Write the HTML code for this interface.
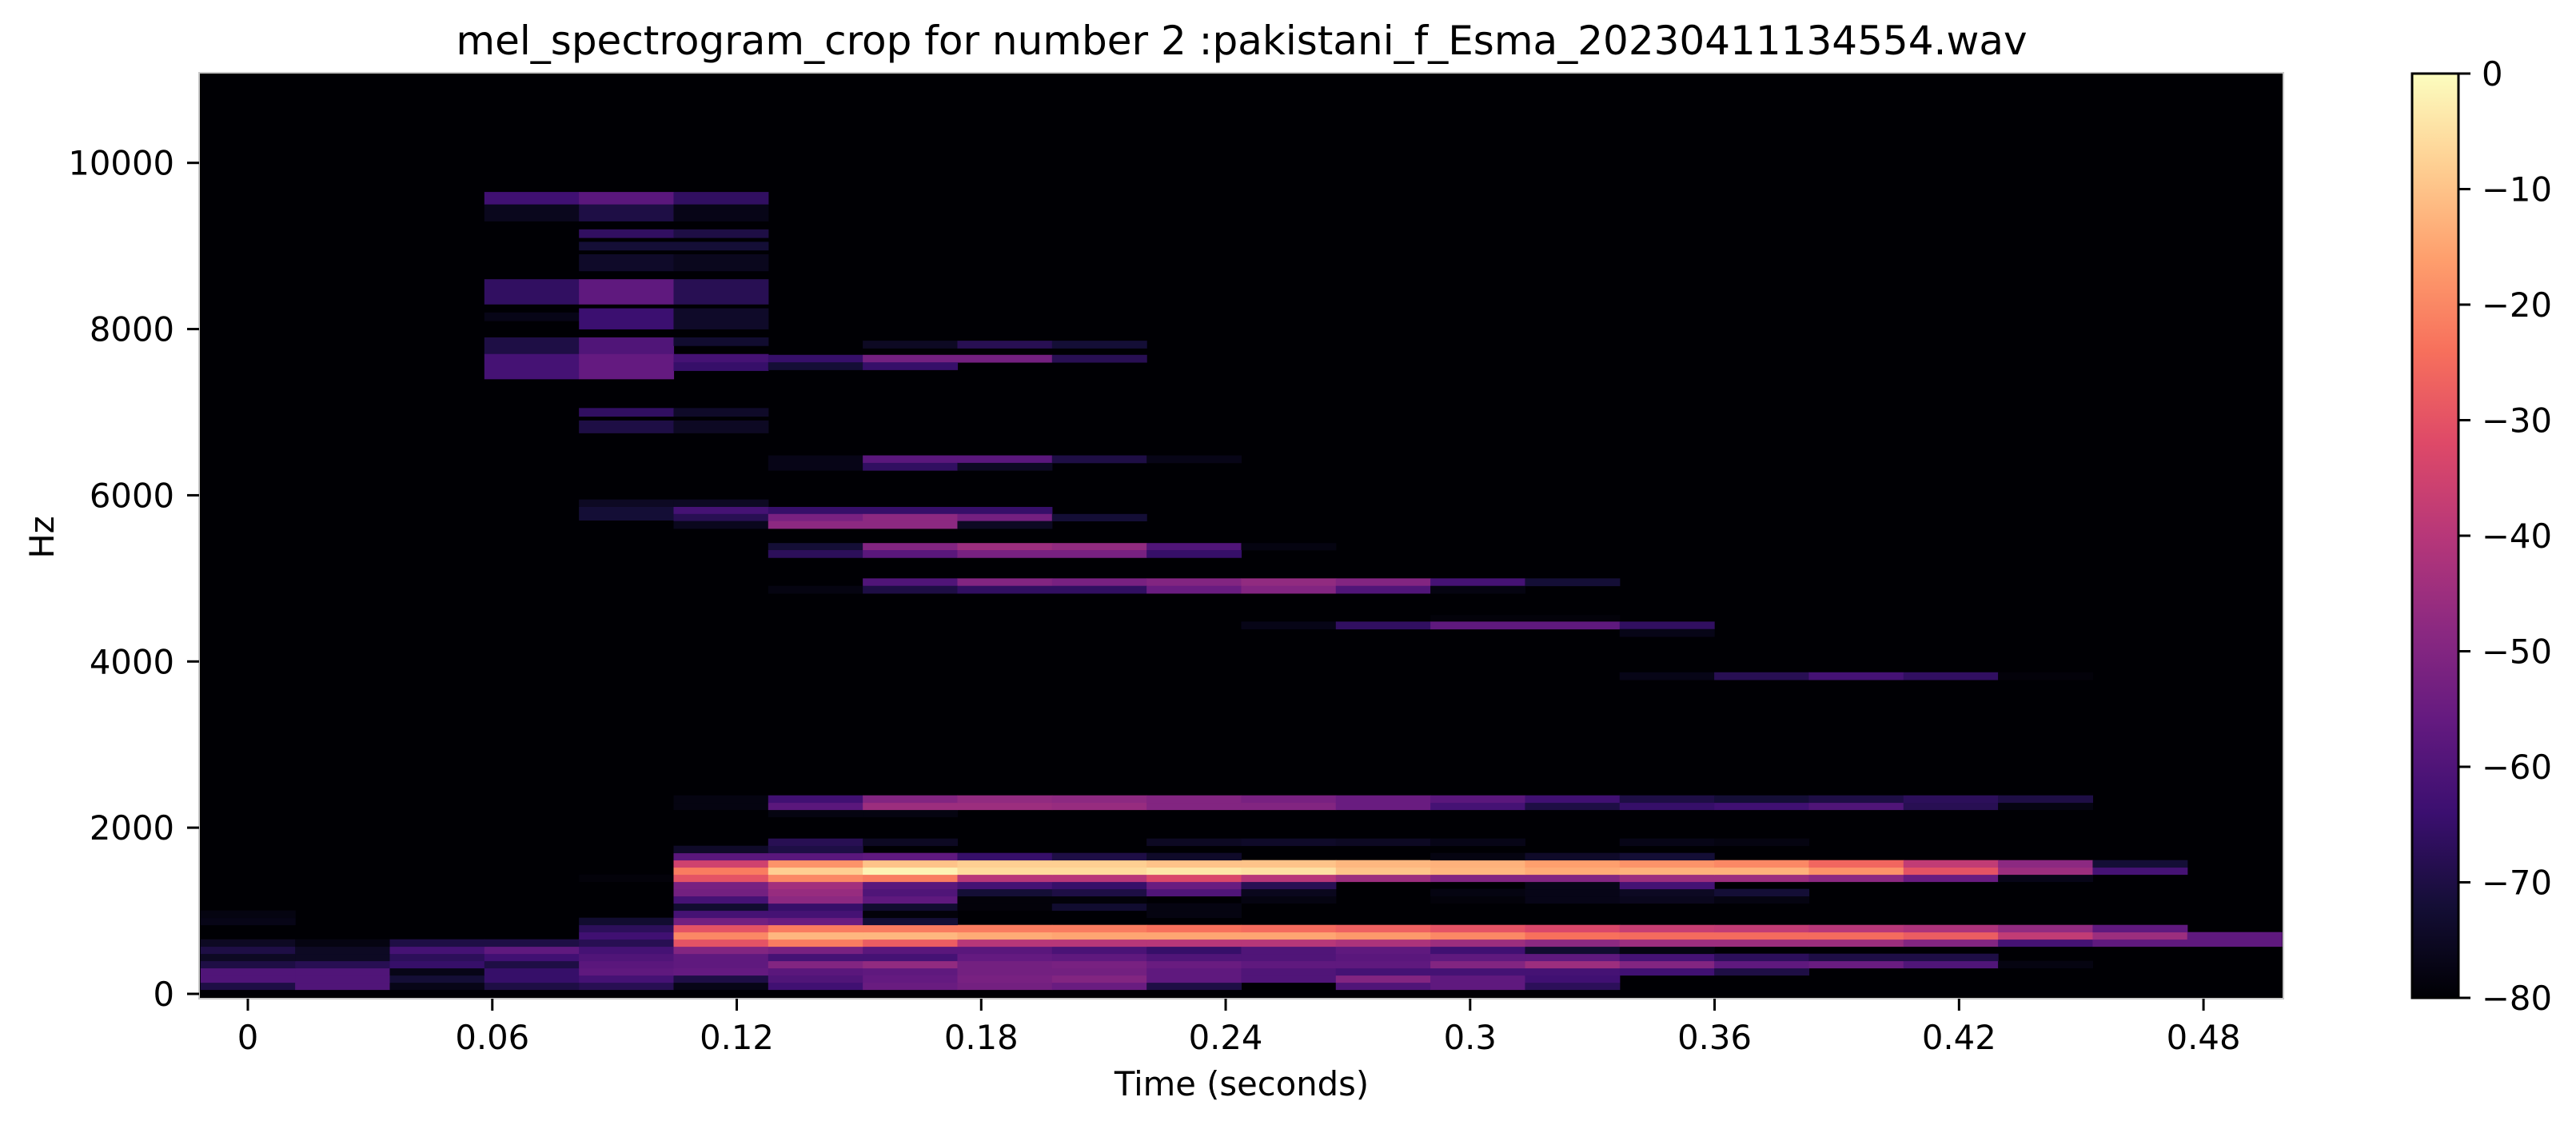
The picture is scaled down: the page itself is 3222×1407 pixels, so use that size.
<!DOCTYPE html>
<html><head><meta charset="utf-8">
<style>
html,body{margin:0;padding:0;background:#fff;}
svg{display:block;}
text{font-family:"DejaVu Sans","Liberation Sans",sans-serif;fill:#000;}
</style></head>
<body>
<svg id="chart" width="3222" height="1407" viewBox="0 0 3222 1407" xmlns="http://www.w3.org/2000/svg">
  <text x="1553" y="68" font-size="50" text-anchor="middle">mel_spectrogram_crop for number 2 :pakistani_f_Esma_20230411134554.wav</text>
  <defs>
    <clipPath id="plotclip"><rect x="249" y="91" width="2607" height="1158"/></clipPath>
    <linearGradient id="magma" x1="0" y1="1" x2="0" y2="0">
      <stop offset="0" stop-color="#000004"/><stop offset="0.1" stop-color="#140e36"/>
      <stop offset="0.2" stop-color="#3b0f70"/><stop offset="0.3" stop-color="#641a80"/>
      <stop offset="0.4" stop-color="#8c2981"/><stop offset="0.5" stop-color="#b73779"/>
      <stop offset="0.6" stop-color="#de4968"/><stop offset="0.7" stop-color="#f7705c"/>
      <stop offset="0.8" stop-color="#fe9f6d"/><stop offset="0.9" stop-color="#fecf92"/>
      <stop offset="1" stop-color="#fcfdbf"/>
    </linearGradient>
  </defs>
  <rect x="249" y="91" width="2607" height="1158" fill="#000004"/>
  <g id="cells" clip-path="url(#plotclip)"></g>
  <rect x="249" y="91" width="2607" height="1158" fill="none" stroke="#c8c8c8" stroke-width="2"/>
  <g id="xaxis"></g>
  <g id="yaxis"></g>
  <text x="1553" y="1370" font-size="41.7" text-anchor="middle">Time (seconds)</text>
  <text x="0" y="0" font-size="41.7" text-anchor="middle" transform="translate(67,672) rotate(-90)">Hz</text>
  <rect x="3017" y="92" width="58" height="1156" fill="url(#magma)" stroke="#000" stroke-width="3"/>
  <g id="cbaxis"></g>
</svg>
<script>
const NS = "http://www.w3.org/2000/svg";
const hopSeconds = 0.02322;
const frameCount = 22;
const timeTicks = [0, 0.06, 0.12, 0.18, 0.24, 0.3, 0.36, 0.42, 0.48];
const timeTickLabels = ["0", "0.06", "0.12", "0.18", "0.24", "0.3", "0.36", "0.42", "0.48"];
const hzTicks = [0, 2000, 4000, 6000, 8000, 10000];
const dbTicks = [0, -10, -20, -30, -40, -50, -60, -70, -80];
const lowRowBaseHz = 51;
const lowRowStepHz = 86.6;
const lowRowIndex = [0,1,2,3,4,5,6,7,8,9,10,11,12,13,14,15,16,17,18,19,20,24,25,26];
const lowRowValues = [
 [-70,-60,-77,-70,-68,-77,-63,-55,-53,-55,-70,-80,-60,-57,-67,-80,-80,-80,-80,-80,-80,-80],
 [-60,-60,-72,-65,-62,-70,-60,-56,-52,-50,-57,-60,-50,-57,-63,-80,-80,-80,-80,-80,-80,-80],
 [-60,-60,-77,-65,-57,-56,-58,-57,-53,-53,-57,-60,-62,-62,-62,-63,-70,-80,-80,-80,-80,-80],
 [-70,-68,-65,-70,-58,-57,-50,-47,-53,-52,-55,-57,-57,-50,-45,-50,-57,-55,-60,-78,-80,-80],
 [-75,-75,-67,-63,-60,-57,-62,-62,-56,-57,-60,-60,-58,-57,-57,-62,-67,-70,-70,-80,-80,-80],
 [-70,-75,-62,-57,-62,-50,-52,-58,-58,-61,-65,-60,-57,-63,-73,-78,-80,-80,-80,-80,-80,-80],
 [-75,-78,-70,-70,-68,-30,-22,-28,-40,-40,-40,-40,-42,-45,-48,-45,-45,-45,-50,-62,-57,-57],
 [-80,-80,-80,-80,-63,-20,-12,-12,-14,-15,-15,-15,-17,-20,-24,-25,-25,-25,-28,-38,-45,-57],
 [-80,-80,-80,-80,-67,-30,-22,-22,-22,-22,-24,-25,-27,-30,-33,-37,-38,-40,-42,-47,-57,-80],
 [-77,-80,-80,-80,-73,-53,-55,-72,-80,-80,-80,-80,-80,-80,-80,-80,-80,-80,-80,-80,-80,-80],
 [-78,-80,-80,-80,-80,-62,-62,-79,-80,-80,-78,-80,-80,-80,-80,-80,-80,-80,-80,-80,-80,-80],
 [-80,-80,-80,-80,-80,-73,-65,-73,-79,-73,-78,-80,-80,-80,-80,-80,-80,-80,-80,-80,-80,-80],
 [-80,-80,-80,-80,-80,-62,-48,-57,-79,-79,-80,-78,-80,-79,-77,-76,-78,-80,-80,-80,-80,-80],
 [-80,-80,-80,-80,-80,-53,-46,-60,-72,-70,-60,-76,-80,-78,-77,-75,-72,-80,-80,-80,-80,-80],
 [-80,-80,-80,-80,-80,-52,-44,-58,-62,-65,-55,-68,-80,-80,-77,-62,-80,-80,-80,-80,-80,-80],
 [-80,-80,-80,-80,-79,-30,-20,-22,-40,-40,-33,-40,-45,-50,-50,-45,-45,-48,-55,-77,-80,-80],
 [-80,-80,-80,-80,-80,-22,-8,-2,-6,-6,-4,-5,-10,-12,-14,-13,-13,-18,-30,-45,-62,-80],
 [-80,-80,-80,-80,-80,-35,-18,-10,-8,-8,-10,-10,-12,-13,-16,-18,-20,-26,-38,-48,-72,-80],
 [-80,-80,-80,-80,-80,-58,-58,-57,-65,-70,-74,-80,-80,-78,-74,-72,-80,-80,-80,-80,-80,-80],
 [-80,-80,-80,-80,-80,-74,-70,-80,-80,-80,-80,-80,-80,-80,-80,-80,-80,-80,-80,-80,-80,-80],
 [-80,-80,-80,-80,-80,-80,-68,-75,-80,-80,-75,-74,-75,-77,-80,-77,-78,-80,-80,-80,-80,-80],
 [-80,-80,-80,-80,-80,-80,-78,-78,-80,-80,-80,-80,-80,-80,-80,-80,-80,-80,-80,-80,-80,-80],
 [-80,-80,-80,-80,-80,-78,-58,-45,-45,-46,-50,-50,-55,-62,-70,-65,-63,-60,-68,-78,-80,-80],
 [-80,-80,-80,-80,-80,-78,-63,-50,-47,-48,-50,-52,-55,-58,-63,-70,-72,-70,-67,-70,-80,-80]
];
const highCells = [
 [3,3,9500,9650,-63],[4,4,9500,9650,-58],[5,5,9500,9650,-66],
 [3,3,9300,9500,-76],[4,4,9300,9500,-70],[5,5,9300,9500,-77],
 [4,4,9100,9200,-66],[5,5,9100,9200,-70],[4,5,8950,9050,-72],
 [4,4,8700,8900,-74],[5,5,8700,8900,-76],
 [3,3,8300,8600,-66],[4,4,8300,8600,-57],[5,5,8300,8600,-68],
 [3,3,8100,8200,-77],[4,4,8000,8250,-64],[5,5,8000,8250,-74],
 [3,3,7700,7900,-70],[4,4,7700,7900,-60],[5,5,7800,7900,-73],
 [3,3,7400,7700,-62],[4,4,7400,7700,-56],[5,5,7600,7700,-62],[5,5,7500,7600,-65],
 [6,6,7600,7690,-65],[7,8,7600,7690,-53],[9,9,7600,7690,-68],[6,6,7510,7600,-72],[7,7,7510,7600,-65],
 [7,7,7770,7860,-75],[8,8,7770,7860,-68],[9,9,7770,7860,-72],
 [4,4,6950,7050,-66],[5,5,6950,7050,-74],[4,4,6750,6900,-70],[5,5,6750,6900,-75],
 [6,6,6300,6480,-77],[7,7,6390,6480,-58],[8,8,6390,6480,-58],[9,9,6390,6480,-70],[10,10,6390,6480,-77],[7,7,6300,6390,-66],[8,8,6300,6390,-75],
 [4,4,5860,5950,-75],[5,5,5860,5950,-75],
 [4,4,5700,5860,-72],[5,5,5775,5860,-62],[6,8,5775,5860,-65],
 [5,5,5690,5775,-68],[6,6,5690,5775,-52],[7,7,5690,5775,-48],[8,8,5690,5775,-53],[9,9,5690,5775,-72],
 [5,5,5600,5690,-76],[6,7,5600,5690,-48],[8,8,5600,5690,-75],
 [6,6,5340,5425,-72],[7,7,5340,5425,-50],[8,8,5340,5425,-45],[9,9,5340,5425,-47],[10,10,5340,5425,-60],[11,11,5340,5425,-78],
 [6,6,5250,5340,-67],[7,7,5250,5340,-58],[8,9,5250,5340,-52],[10,10,5250,5340,-65],
 [7,7,4910,5000,-60],[8,8,4910,5000,-50],[9,9,4910,5000,-52],[10,10,4910,5000,-50],[11,11,4910,5000,-47],[12,12,4910,5000,-50],[13,13,4910,5000,-62],[14,14,4910,5000,-72],
 [6,6,4820,4910,-78],[7,7,4820,4910,-70],[8,9,4820,4910,-66],[10,10,4820,4910,-55],[11,11,4820,4910,-50],[12,12,4820,4910,-60],[13,13,4820,4910,-78],
 [13,14,4480,4560,-79],
 [11,11,4390,4480,-77],[12,12,4390,4480,-66],[13,14,4390,4480,-57],[15,15,4390,4480,-66],[15,15,4300,4390,-77],
 [15,15,3780,3870,-77],[16,16,3780,3870,-68],[17,17,3780,3870,-62],[18,18,3780,3870,-66],[19,19,3780,3870,-79]
];

// axis functions
function xScale(t){ return 310 + t * 5096; }
function yScale(hz){ return 1243 - hz * 0.10393; }
function cbScale(db){ return 92 + (-db) * (1156 / 80); }
const magmaStops = [[0,0,0,4],[0.1,20,14,54],[0.2,59,15,112],[0.3,100,26,128],[0.4,140,41,129],[0.5,183,55,121],[0.6,222,73,104],[0.7,247,112,92],[0.8,254,159,109],[0.9,254,207,146],[1,252,253,191]];
function magma(db){
  let t = Math.max(0, Math.min(1, (db + 80) / 80));
  for (let i = 1; i < magmaStops.length; i++) {
    const a = magmaStops[i-1], b = magmaStops[i];
    if (t <= b[0]) {
      const f = (t - a[0]) / (b[0] - a[0]);
      const c = [1,2,3].map(k => Math.round(a[k] + (b[k] - a[k]) * f));
      return "rgb(" + c.join(",") + ")";
    }
  }
  return "rgb(252,253,191)";
}
function frameLeft(f){ return xScale(f * hopSeconds - hopSeconds / 2); }
function frameRight(f){ return xScale(f * hopSeconds + hopSeconds / 2); }

const cellsG = document.getElementById("cells");
function addCell(f0, f1, hzLo, hzHi, db){
  if (db <= -80) return;
  const r = document.createElementNS(NS, "rect");
  const x0 = frameLeft(f0), x1 = frameRight(f1);
  const y0 = yScale(hzHi), y1 = yScale(hzLo);
  r.setAttribute("x", x0.toFixed(2));
  r.setAttribute("y", y0.toFixed(2));
  r.setAttribute("width", (x1 - x0 + 0.6).toFixed(2));
  r.setAttribute("height", (y1 - y0 + 0.4).toFixed(2));
  r.setAttribute("fill", magma(db));
  
  
  cellsG.appendChild(r);
}
lowRowIndex.forEach((ri, k) => {
  const lo = lowRowBaseHz + ri * lowRowStepHz, hi = lo + lowRowStepHz;
  lowRowValues[k].forEach((db, f) => addCell(f, f, lo, hi, db));
});
highCells.forEach(c => addCell(c[0], c[1], c[2], c[3], c[4]));

function line(g, x1, y1, x2, y2, w, name){
  const l = document.createElementNS(NS, "line");
  l.setAttribute("x1", x1); l.setAttribute("y1", y1);
  l.setAttribute("x2", x2); l.setAttribute("y2", y2);
  l.setAttribute("stroke", "#000"); l.setAttribute("stroke-width", w);
  
  
  g.appendChild(l);
}
function label(g, x, y, s, anchor, name){
  const t = document.createElementNS(NS, "text");
  t.setAttribute("x", x); t.setAttribute("y", y);
  t.setAttribute("font-size", "41.7");
  t.setAttribute("text-anchor", anchor);
  t.textContent = s;
  
  
  g.appendChild(t);
}
const xg = document.getElementById("xaxis");
timeTicks.forEach((t, i) => {
  const x = xScale(t);
  line(xg, x, 1249, x, 1264, 3, "x-tick");
  label(xg, x, 1312, timeTickLabels[i], "middle", "x-tick-label");
});
const yg = document.getElementById("yaxis");
hzTicks.forEach(h => {
  const y = yScale(h);
  line(yg, 234, y, 249, y, 3, "y-tick");
  label(yg, 218, y + 15, String(h), "end", "y-tick-label");
});
const cg = document.getElementById("cbaxis");
dbTicks.forEach(d => {
  const y = cbScale(d);
  line(cg, 3075, y, 3090, y, 3, "colorbar-tick");
  label(cg, 3104, y + 15, d === 0 ? "0" : "\u2212" + Math.abs(d), "start", "colorbar-tick-label");
});
</script>
</body></html>
